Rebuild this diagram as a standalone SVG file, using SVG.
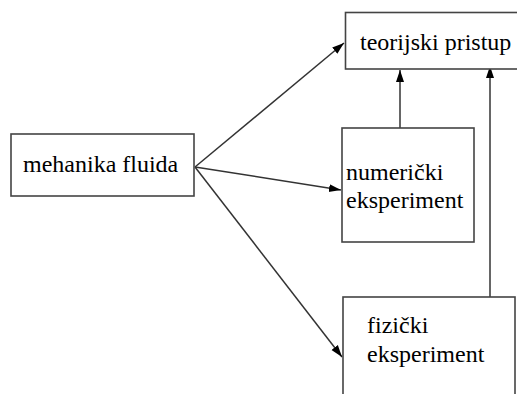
<svg xmlns="http://www.w3.org/2000/svg" width="517" height="394" viewBox="0 0 517 394">
<style>
.box{fill:#fff;stroke:#444;stroke-width:1.6}
.t{font-family:'Liberation Serif','Times New Roman','DejaVu Serif',serif;font-size:24px;fill:#000}
.c{stroke:#333;stroke-width:1.5;fill:none;marker-end:url(#ah)}
</style>
<defs>
<marker id="ah" viewBox="0 0 12 10" refX="12" refY="5" markerWidth="12" markerHeight="10" markerUnits="userSpaceOnUse" orient="auto">
<path d="M0,1 L12,5 L0,9 z" fill="#000"/>
</marker>
</defs>
<rect width="517" height="394" fill="#fff"/>
<g id="connectors">
<line class="c" x1="195" y1="167" x2="344" y2="43"/>
<line class="c" x1="195" y1="167" x2="341" y2="190"/>
<line class="c" x1="195" y1="167" x2="342" y2="357"/>
<line class="c" x1="400" y1="128" x2="400" y2="70"/>
<line class="c" x1="490" y1="297" x2="490" y2="66"/>
</g>
<g id="teorijski">
<rect class="box" x="345.5" y="12.5" width="175" height="56.5"/>
<text class="t" font-family="Liberation Serif, serif" x="360" y="50">teorijski pristup</text>
</g>
<g id="mehanika">
<rect class="box" x="11" y="134" width="183" height="62"/>
<text class="t" x="23" y="172">mehanika fluida</text>
</g>
<g id="numericki">
<rect class="box" x="342" y="128" width="132" height="114"/>
<text class="t" x="346" y="180">numerički</text>
<text class="t" x="346" y="208">eksperiment</text>
</g>
<g id="fizicki">
<rect class="box" x="343" y="297" width="172" height="110"/>
<text class="t" x="367" y="333">fizički</text>
<text class="t" x="367" y="362">eksperiment</text>
</g>
</svg>
